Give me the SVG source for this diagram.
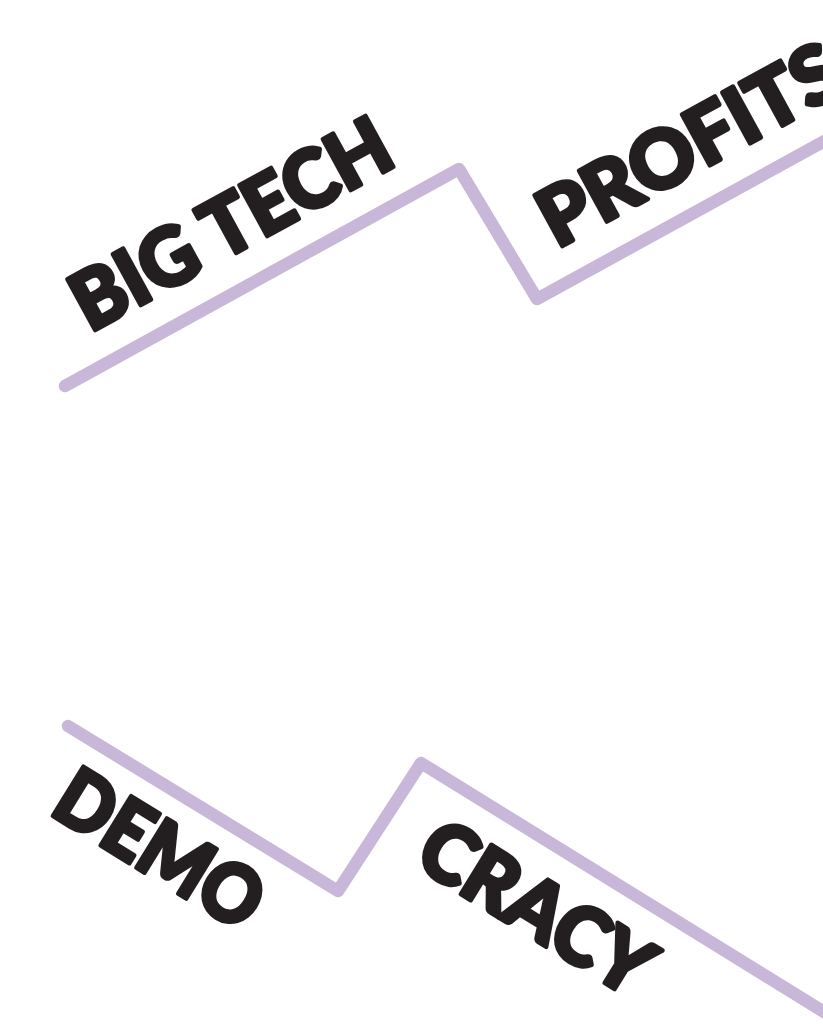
<svg xmlns="http://www.w3.org/2000/svg" width="823" height="1024" viewBox="0 0 823 1024">
<style>
.ln{fill:none;stroke:#c8b7d8;stroke-width:12.5;stroke-linecap:round;stroke-linejoin:round}
.t{font-family:Lato,"Open Sans","DejaVu Sans",sans-serif;font-weight:900;font-size:80px;fill:#231f20;stroke:#231f20;stroke-width:4.5;stroke-linejoin:round}
</style>
<rect width="823" height="1024" fill="#fff"/>
<g id="connectors">
<polyline class="ln" points="65,386 459,169 537,299 850,127"/>
<polyline class="ln" points="68,726 338,891 421,763 850,1028"/>
</g>
<g id="node-bigtech"><text class="t" transform="translate(90,333) rotate(-28.7)" textLength="352" lengthAdjust="spacingAndGlyphs">BIG TECH</text></g>
<g id="node-profits"><text class="t" transform="translate(557,249) rotate(-28.7)" textLength="332" lengthAdjust="spacingAndGlyphs">PROFITS</text></g>
<g id="node-demo"><text class="t" transform="translate(48,813) rotate(31.7)" textLength="228" lengthAdjust="spacingAndGlyphs">DEMO</text></g>
<g id="node-cracy"><text class="t" transform="translate(412,864) rotate(31.7)" textLength="258" lengthAdjust="spacingAndGlyphs">CRACY</text></g>
</svg>
